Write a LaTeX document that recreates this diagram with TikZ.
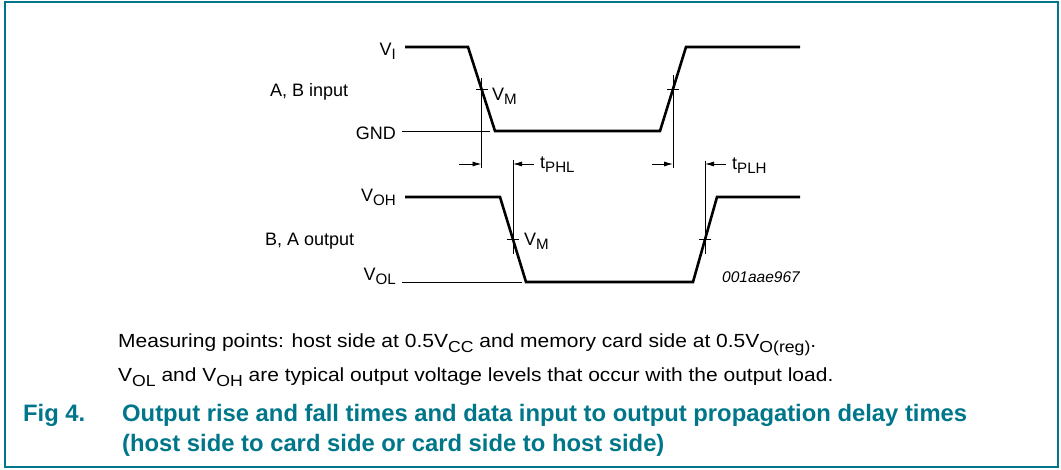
\documentclass[tikz,border=0pt]{standalone}
\usepackage{fontspec}
\usepackage{graphicx}
\setmainfont{Liberation Sans}
\usetikzlibrary{arrows.meta, positioning, calc}
\definecolor{figteal}{RGB}{0,118,138}
\newcommand{\sub}[1]{\raisebox{-0.27em}{\scalebox{0.84}{#1}}}
\newcommand{\wide}[1]{\scalebox{1.105}[1]{#1}}

\begin{document}
\begin{tikzpicture}[x=1pt, y=-1pt,
    wave/.style={line width=2.6pt, line join=miter},
    level/.style={line width=0.8pt},
    marker/.style={line width=0.7pt},
    lbl/.style={inner sep=0pt, font=\fontsize{18}{20}\selectfont},
    note/.style={inner sep=0pt, font=\fontsize{19}{22}\selectfont},
    caption/.style={inner sep=0pt, text=figteal, font=\fontsize{23.8}{26}\selectfont\bfseries},
    delay/.style={-{Latex[length=9pt,width=5pt]}, line width=0.8pt}]
    \useasboundingbox (0,0) rectangle (1061,469);
    \draw[figteal, line width=2pt] (5,2) rectangle (1058,467);

    % waveforms
    \coordinate (i0) at (405,47);  \coordinate (i1) at (468,47);
    \coordinate (i2) at (495,131); \coordinate (i3) at (660,131);
    \coordinate (i4) at (686,47);  \coordinate (i5) at (800,47);
    \coordinate (o0) at (405,197); \coordinate (o1) at (500,197);
    \coordinate (o2) at (526,282); \coordinate (o3) at (693,282);
    \coordinate (o4) at (717,197); \coordinate (o5) at (800,197);
    \draw[wave] (i0) -- (i1) -- (i2) -- (i3) -- (i4) -- (i5);
    \draw[wave] (o0) -- (o1) -- (o2) -- (o3) -- (o4) -- (o5);

    % levels
    \node[lbl, anchor=base east] (vi) at (396,55) {V\sub{I}};
    \node[lbl, anchor=base east] (gnd) at (396,139) {GND};
    \node[lbl, anchor=base east] (voh) at (396,201) {V\sub{OH}};
    \node[lbl, anchor=base east] (vol) at (396,280) {V\sub{OL}};
    \node[lbl, anchor=base west] (inp) at (270,96) {A, B input};
    \node[lbl, anchor=base west] (outp) at (265,245) {B, A output};
    \draw[level] (402,131) coordinate (g0) -- ([xshift=-5pt]i2);
    \draw[level] (402,282) coordinate (l0) -- ([xshift=-4pt]o2);

    % measuring points
    \coordinate (cif) at ($(i1)!0.5!(i2)$);
    \coordinate (cir) at ($(i3)!0.5!(i4)$);
    \coordinate (cof) at ($(o1)!0.5!(o2)$);
    \coordinate (cor) at ($(o3)!0.5!(o4)$);
    \foreach \c in {cif, cir, cof, cor}
      \draw[marker] ([xshift=-6pt]\c) -- ([xshift=6pt]\c);
    \draw[marker] ([yshift=11pt]cif) -- ([yshift=-79pt]cif);
    \draw[marker] ([yshift=14pt]cir) -- ([yshift=-79pt]cir);
    \draw[marker] ([yshift=80pt]cof) -- ([yshift=-14pt]cof);
    \draw[marker] ([yshift=79pt]cor) -- ([yshift=-14pt]cor);
    \node[lbl, anchor=base west] (vm1) at (492,100) {V\sub{M}};
    \node[lbl, anchor=base west] (vm2) at (524,245) {V\sub{M}};

    % delays
    \coordinate (a1) at (459,164);
    \coordinate (a2) at (652,164);
    \coordinate (a3) at (534,164);
    \coordinate (a4) at (726,164);
    \path[delay] (a1) edge (a1 -| cif);
    \path[delay] (a2) edge (a2 -| cir);
    \path[delay] (a3) edge (a3 -| cof);
    \path[delay] (a4) edge (a4 -| cor);
    \node[lbl, anchor=base west] (tphl) at (540,168) {t\sub{PHL}};
    \node[lbl, anchor=base west] (tplh) at (732,169) {t\sub{PLH}};
    \node[inner sep=0pt, anchor=base east, font=\fontsize{15.5}{18}\selectfont\itshape] (id) at (800,282) {001aae967};

    % notes and caption
    \node[note, anchor=base west] (n1) at (118,347.7) {\wide{Measuring points: host side at 0.5V\sub{CC} and memory card side at 0.5V\sub{O(reg)}.}};
    \node[note, anchor=base west] (n2) at (118,381.5) {\wide{V\sub{OL} and V\sub{OH} are typical output voltage levels that occur with the output load.}};
    \node[caption, anchor=base west] (fig) at (23,421.5) {Fig 4.};
    \node[caption, anchor=base west] (c1) at (122,421.5) {Output rise and fall times and data input to output propagation delay times};
    \node[caption, anchor=base west] (c2) at (122,451) {(host side to card side or card side to host side)};
\end{tikzpicture}
\end{document}
